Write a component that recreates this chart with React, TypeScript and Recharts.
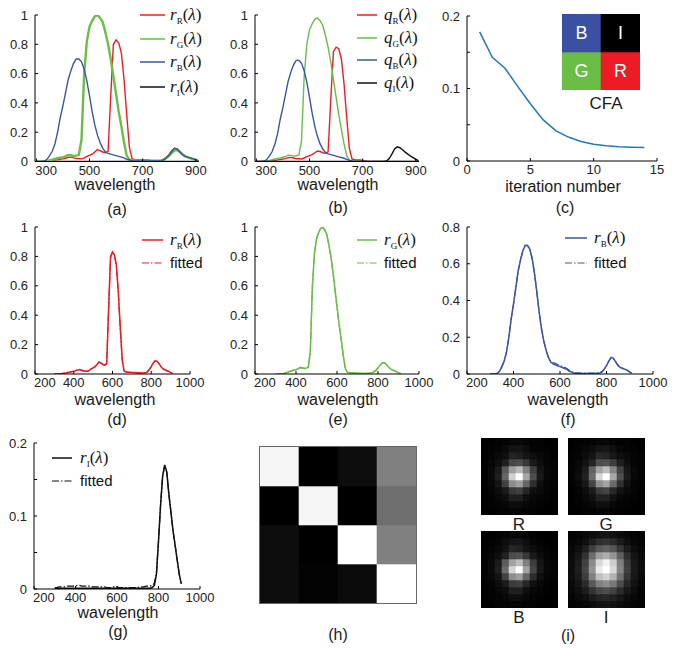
import React from 'react';
import { LineChart, Line, XAxis, YAxis, BarChart, Bar, Cell, LabelList } from 'recharts';

const FONT = '"Liberation Sans", Arial, Helvetica, sans-serif';
const SERIF = '"Liberation Serif", "Times New Roman", serif';
const RED = '#ED1C24';
const GREEN = '#6ABD45';
const BLUE = '#3B54A4';
const BLACK = '#111111';
const CURVE = '#1F78C0';
const DASHDOT = '7 2 1.5 2';

// ---------- data ----------
const wavelengths = [
  300, 310, 320, 330, 340, 350, 360, 370, 380, 390,
  400, 410, 420, 430, 440, 450, 460, 470, 480, 490,
  500, 510, 520, 530, 540, 550, 560, 570, 580, 590,
  600, 610, 620, 630, 640, 650, 660, 670, 680, 690,
  700, 710, 720, 730, 740, 750, 760, 770, 780, 790,
  800, 810, 820, 830, 840, 850, 860, 870, 880, 890,
  900, 910,
];

const rR = [
  0, 0, 0, 0.002, 0.003, 0.005, 0.007, 0.01, 0.012, 0.015,
  0.018, 0.022, 0.028, 0.03, 0.025, 0.02, 0.02, 0.018, 0.025, 0.035,
  0.042, 0.05, 0.065, 0.082, 0.075, 0.065, 0.06, 0.07, 0.45, 0.8,
  0.83, 0.81, 0.74, 0.56, 0.32, 0.1, 0.02, 0.013, 0.012, 0.012,
  0.01, 0.01, 0.01, 0.008, 0.007, 0.006, 0.006, 0.008, 0.015, 0.03,
  0.05, 0.075, 0.09, 0.086, 0.07, 0.05, 0.036, 0.028, 0.022, 0.018,
  0.01, 0.004,
];
const rG = [
  0, 0, 0, 0.001, 0.003, 0.008, 0.012, 0.018, 0.022, 0.026,
  0.03, 0.035, 0.045, 0.043, 0.038, 0.04, 0.045, 0.15, 0.6, 0.82,
  0.92, 0.96, 0.99, 1.0, 0.98, 0.95, 0.88, 0.8, 0.7, 0.58,
  0.46, 0.34, 0.24, 0.13, 0.04, 0.012, 0.008, 0.008, 0.007, 0.007,
  0.006, 0.005, 0.005, 0.004, 0.004, 0.005, 0.006, 0.008, 0.015, 0.025,
  0.04, 0.06, 0.075, 0.078, 0.065, 0.05, 0.035, 0.028, 0.022, 0.016,
  0.008, 0.003,
];
const rB = [
  0, 0, 0, 0.003, 0.015, 0.04, 0.07, 0.12, 0.2, 0.3,
  0.38, 0.47, 0.56, 0.62, 0.67, 0.7, 0.7, 0.68, 0.63, 0.55,
  0.45, 0.34, 0.25, 0.18, 0.13, 0.09, 0.065, 0.055, 0.05, 0.045,
  0.04, 0.035, 0.03, 0.025, 0.015, 0.01, 0.005, 0.003, 0.003, 0.003,
  0.003, 0.003, 0.003, 0.003, 0.003, 0.003, 0.003, 0.005, 0.01, 0.025,
  0.045, 0.07, 0.09, 0.085, 0.065, 0.045, 0.035, 0.03, 0.025, 0.02,
  0.01, 0.005,
];
const rI = [
  0, 0.001, 0.001, 0.001, 0.001, 0.001, 0.001, 0.001, 0.001, 0.001,
  0.001, 0.001, 0.001, 0.001, 0.001, 0.001, 0.001, 0.001, 0.001, 0.001,
  0.001, 0.001, 0.001, 0.001, 0.001, 0.001, 0.001, 0.001, 0.001, 0.001,
  0.001, 0.001, 0.001, 0.001, 0.001, 0.001, 0.001, 0.001, 0.001, 0.001,
  0.001, 0.001, 0.001, 0.001, 0.001, 0.001, 0.001, 0.002, 0.005, 0.02,
  0.065, 0.115, 0.155, 0.17, 0.16, 0.13, 0.105, 0.08, 0.06, 0.04,
  0.02, 0.007,
];
// r_I as it appears in panel (a): lies on the baseline
const rIa = [
  0, 0, 0, 0, 0, 0, 0, 0, 0, 0,
  0, 0, 0, 0, 0, 0, 0, 0, 0, 0,
  0, 0, 0, 0, 0, 0, 0, 0, 0, 0,
  0, 0, 0, 0, 0, 0, 0, 0, 0, 0,
  0, 0, 0, 0, 0, 0, 0, 0, 0, 0,
  0, 0, 0, 0, 0, 0, 0, 0, 0, 0,
  0, 0,
];

const fR = [
  0, 0, 0.001, 0.003, 0.004, 0.006, 0.008, 0.011, 0.013, 0.016,
  0.019, 0.023, 0.029, 0.03, 0.026, 0.021, 0.02, 0.019, 0.026, 0.036,
  0.043, 0.051, 0.066, 0.08, 0.074, 0.064, 0.061, 0.072, 0.44, 0.79,
  0.83, 0.81, 0.73, 0.55, 0.31, 0.1, 0.021, 0.014, 0.012, 0.011,
  0.01, 0.01, 0.009, 0.008, 0.007, 0.007, 0.007, 0.009, 0.016, 0.031,
  0.051, 0.074, 0.089, 0.085, 0.07, 0.051, 0.037, 0.029, 0.023, 0.018,
  0.011, 0.005,
];
const fG = [
  0, 0, 0.001, 0.002, 0.004, 0.009, 0.013, 0.018, 0.023, 0.027,
  0.031, 0.036, 0.044, 0.042, 0.039, 0.041, 0.047, 0.16, 0.59, 0.82,
  0.92, 0.96, 0.99, 0.995, 0.98, 0.95, 0.88, 0.8, 0.69, 0.57,
  0.45, 0.34, 0.24, 0.13, 0.042, 0.013, 0.009, 0.008, 0.008, 0.007,
  0.006, 0.006, 0.005, 0.005, 0.005, 0.005, 0.006, 0.009, 0.016, 0.026,
  0.041, 0.06, 0.074, 0.077, 0.065, 0.05, 0.036, 0.028, 0.022, 0.016,
  0.009, 0.004,
];
const fB = [
  0, 0, 0.001, 0.004, 0.016, 0.04, 0.072, 0.12, 0.2, 0.3,
  0.38, 0.47, 0.56, 0.62, 0.67, 0.7, 0.7, 0.68, 0.63, 0.55,
  0.45, 0.34, 0.25, 0.18, 0.13, 0.092, 0.07, 0.062, 0.058, 0.052,
  0.047, 0.042, 0.036, 0.03, 0.02, 0.013, 0.008, 0.006, 0.006, 0.005,
  0.005, 0.005, 0.005, 0.005, 0.005, 0.005, 0.006, 0.008, 0.013, 0.027,
  0.047, 0.071, 0.09, 0.084, 0.066, 0.047, 0.036, 0.031, 0.026, 0.02,
  0.011, 0.006,
];
const fI = [
  0.002, 0.002, 0.003, 0.003, 0.003, 0.003, 0.004, 0.004, 0.004, 0.004,
  0.004, 0.005, 0.005, 0.004, 0.004, 0.004, 0.004, 0.004, 0.003, 0.003,
  0.003, 0.003, 0.003, 0.003, 0.003, 0.002, 0.002, 0.002, 0.003, 0.003,
  0.003, 0.002, 0.002, 0.002, 0.002, 0.002, 0.002, 0.002, 0.002, 0.002,
  0.002, 0.003, 0.003, 0.003, 0.004, 0.004, 0.004, 0.005, 0.008, 0.022,
  0.066, 0.115, 0.155, 0.169, 0.16, 0.13, 0.105, 0.08, 0.06, 0.04,
  0.02, 0.008,
];

const qR = [
  0, 0, 0, 0.002, 0.003, 0.005, 0.007, 0.009, 0.011, 0.014,
  0.017, 0.02, 0.026, 0.028, 0.024, 0.019, 0.019, 0.017, 0.024, 0.033,
  0.04, 0.047, 0.06, 0.072, 0.068, 0.06, 0.057, 0.066, 0.42, 0.75,
  0.78, 0.77, 0.7, 0.53, 0.3, 0.09, 0.018, 0.012, 0.01, 0.01,
  0.008, 0.004, 0, 0, 0, 0, 0, 0, 0, 0,
  0, 0, 0, 0, 0, 0, 0, 0, 0, 0,
  0, 0,
];
const qG = [
  0, 0, 0, 0.001, 0.003, 0.008, 0.012, 0.017, 0.021, 0.025,
  0.029, 0.034, 0.043, 0.042, 0.037, 0.039, 0.044, 0.14, 0.58, 0.8,
  0.9, 0.94, 0.97, 0.98, 0.96, 0.93, 0.86, 0.78, 0.68, 0.56,
  0.44, 0.32, 0.22, 0.12, 0.04, 0.01, 0.005, 0.004, 0.003, 0.002,
  0.002, 0.001, 0, 0, 0, 0, 0, 0, 0, 0,
  0, 0, 0, 0, 0, 0, 0, 0, 0, 0,
  0, 0,
];
const qB = [
  0, 0, 0, 0.003, 0.015, 0.04, 0.07, 0.12, 0.19, 0.29,
  0.37, 0.46, 0.55, 0.61, 0.66, 0.69, 0.69, 0.67, 0.62, 0.54,
  0.44, 0.33, 0.24, 0.17, 0.12, 0.085, 0.062, 0.052, 0.047, 0.042,
  0.037, 0.032, 0.027, 0.022, 0.014, 0.008, 0.004, 0.002, 0.001, 0.001,
  0, 0, 0, 0, 0, 0, 0, 0, 0, 0,
  0, 0, 0, 0, 0, 0, 0, 0, 0, 0,
  0, 0,
];
const qI = [
  0, 0, 0, 0, 0, 0, 0, 0, 0, 0,
  0, 0, 0, 0, 0, 0, 0, 0, 0, 0,
  0, 0, 0, 0, 0, 0, 0, 0, 0, 0,
  0, 0, 0, 0, 0, 0, 0, 0, 0, 0,
  0, 0, 0, 0, 0, 0, 0, 0, 0, 0.003,
  0.02, 0.05, 0.085, 0.1, 0.094, 0.08, 0.064, 0.05, 0.037, 0.026,
  0.015, 0.006,
];

const iterations = [1, 2, 3, 4, 5, 6, 7, 8, 9, 10, 11, 12, 13, 14];
const iterError = [0.178, 0.143, 0.128, 0.103, 0.079, 0.057, 0.042, 0.033, 0.027, 0.023, 0.021, 0.0195, 0.019, 0.0185];

const cfaLetters = [['B', 'I'], ['G', 'R']];
const cfaColors = [['#3A51A3', '#000000'], ['#6ABD45', '#ED1C24']];

const matrixH = [
  [0.96, 0.0, 0.05, 0.5],
  [0.0, 0.96, 0.0, 0.43],
  [0.05, 0.0, 1.0, 0.5],
  [0.05, 0.012, 0.04, 1.0],
];

const psfR = [
  [0.0, 0.0, 0.01, 0.02, 0.03, 0.03, 0.02, 0.01, 0.01, 0.0, 0.0],
  [0.0, 0.01, 0.02, 0.04, 0.08, 0.08, 0.05, 0.02, 0.01, 0.01, 0.0],
  [0.0, 0.02, 0.04, 0.06, 0.14, 0.12, 0.08, 0.06, 0.04, 0.02, 0.0],
  [0.01, 0.03, 0.06, 0.12, 0.28, 0.3, 0.22, 0.1, 0.05, 0.02, 0.01],
  [0.01, 0.04, 0.1, 0.35, 0.62, 0.72, 0.5, 0.25, 0.08, 0.03, 0.01],
  [0.01, 0.04, 0.12, 0.4, 0.82, 1.0, 0.65, 0.3, 0.1, 0.03, 0.01],
  [0.01, 0.03, 0.08, 0.25, 0.55, 0.62, 0.4, 0.18, 0.06, 0.02, 0.01],
  [0.0, 0.02, 0.05, 0.1, 0.22, 0.25, 0.15, 0.06, 0.04, 0.02, 0.0],
  [0.0, 0.01, 0.03, 0.05, 0.12, 0.12, 0.06, 0.03, 0.02, 0.01, 0.0],
  [0.0, 0.01, 0.02, 0.03, 0.05, 0.05, 0.03, 0.02, 0.01, 0.0, 0.0],
  [0.0, 0.0, 0.01, 0.01, 0.02, 0.02, 0.01, 0.01, 0.0, 0.0, 0.0],
];
const psfG = [
  [0.0, 0.01, 0.01, 0.02, 0.03, 0.03, 0.02, 0.01, 0.01, 0.0, 0.0],
  [0.0, 0.01, 0.03, 0.05, 0.08, 0.09, 0.06, 0.03, 0.01, 0.01, 0.0],
  [0.01, 0.02, 0.05, 0.08, 0.16, 0.14, 0.09, 0.06, 0.04, 0.02, 0.01],
  [0.01, 0.03, 0.07, 0.14, 0.3, 0.32, 0.24, 0.12, 0.06, 0.02, 0.01],
  [0.01, 0.04, 0.11, 0.38, 0.64, 0.74, 0.52, 0.26, 0.09, 0.03, 0.01],
  [0.01, 0.05, 0.13, 0.42, 0.84, 1.0, 0.66, 0.31, 0.11, 0.03, 0.01],
  [0.01, 0.03, 0.09, 0.27, 0.56, 0.64, 0.42, 0.19, 0.07, 0.02, 0.01],
  [0.0, 0.02, 0.05, 0.11, 0.24, 0.27, 0.16, 0.07, 0.04, 0.02, 0.0],
  [0.0, 0.01, 0.03, 0.06, 0.13, 0.13, 0.07, 0.03, 0.02, 0.01, 0.0],
  [0.0, 0.01, 0.02, 0.03, 0.06, 0.06, 0.03, 0.02, 0.01, 0.0, 0.0],
  [0.0, 0.0, 0.01, 0.01, 0.02, 0.02, 0.01, 0.01, 0.0, 0.0, 0.0],
];
const psfB = [
  [0.0, 0.0, 0.01, 0.02, 0.03, 0.03, 0.02, 0.01, 0.0, 0.0, 0.0],
  [0.0, 0.01, 0.02, 0.05, 0.08, 0.09, 0.05, 0.02, 0.01, 0.0, 0.0],
  [0.0, 0.02, 0.04, 0.07, 0.15, 0.13, 0.08, 0.05, 0.03, 0.01, 0.0],
  [0.01, 0.03, 0.06, 0.13, 0.3, 0.32, 0.22, 0.1, 0.05, 0.02, 0.01],
  [0.01, 0.04, 0.1, 0.36, 0.64, 0.74, 0.5, 0.24, 0.08, 0.03, 0.01],
  [0.01, 0.04, 0.12, 0.42, 0.84, 1.0, 0.64, 0.28, 0.09, 0.03, 0.01],
  [0.01, 0.03, 0.08, 0.26, 0.56, 0.62, 0.4, 0.17, 0.06, 0.02, 0.01],
  [0.0, 0.02, 0.05, 0.1, 0.23, 0.26, 0.15, 0.06, 0.03, 0.01, 0.0],
  [0.0, 0.01, 0.03, 0.05, 0.12, 0.12, 0.06, 0.03, 0.02, 0.01, 0.0],
  [0.0, 0.01, 0.02, 0.03, 0.05, 0.05, 0.03, 0.02, 0.01, 0.0, 0.0],
  [0.0, 0.0, 0.01, 0.01, 0.02, 0.02, 0.01, 0.01, 0.0, 0.0, 0.0],
];
const psfI = [
  [0.01, 0.02, 0.03, 0.05, 0.07, 0.08, 0.07, 0.05, 0.03, 0.02, 0.01],
  [0.02, 0.03, 0.06, 0.12, 0.18, 0.2, 0.17, 0.11, 0.06, 0.03, 0.02],
  [0.03, 0.06, 0.12, 0.25, 0.35, 0.38, 0.33, 0.22, 0.11, 0.05, 0.03],
  [0.04, 0.09, 0.2, 0.42, 0.62, 0.68, 0.58, 0.38, 0.18, 0.08, 0.04],
  [0.05, 0.11, 0.26, 0.55, 0.85, 0.95, 0.8, 0.5, 0.24, 0.1, 0.05],
  [0.05, 0.12, 0.28, 0.58, 0.92, 1.0, 0.85, 0.52, 0.25, 0.1, 0.05],
  [0.05, 0.1, 0.24, 0.5, 0.75, 0.82, 0.7, 0.45, 0.21, 0.09, 0.04],
  [0.04, 0.08, 0.17, 0.35, 0.5, 0.55, 0.47, 0.3, 0.15, 0.07, 0.03],
  [0.03, 0.06, 0.11, 0.2, 0.28, 0.3, 0.26, 0.17, 0.09, 0.05, 0.02],
  [0.02, 0.04, 0.06, 0.1, 0.14, 0.15, 0.13, 0.09, 0.05, 0.03, 0.01],
  [0.01, 0.02, 0.03, 0.05, 0.07, 0.08, 0.07, 0.05, 0.03, 0.02, 0.01],
];

const ticksUnit = [0, 0.2, 0.4, 0.6, 0.8, 1];
const ticksBlue = [0, 0.2, 0.4, 0.6, 0.8];
const ticksSmall = [0, 0.05, 0.1, 0.15, 0.2];
const ticksWlTop = [300, 500, 700, 900];
const ticksWl = [200, 400, 600, 800, 1000];
const ticksIter = [0, 5, 10, 15];

// ---------- derived tables ----------
const specRows = wavelengths.map((w, i) => ({
  w,
  rR: rR[i], rG: rG[i], rB: rB[i], rI: rI[i], rIa: rIa[i],
  fR: fR[i], fG: fG[i], fB: fB[i], fI: fI[i],
  qR: qR[i], qG: qG[i], qB: qB[i], qI: qI[i],
}));
const iterRows = iterations.map((k, i) => ({ k, err: iterError[i] }));

const gray = (v: number) => {
  const g = Math.round(255 * Math.max(0, Math.min(1, v)));
  return `rgb(${g},${g},${g})`;
};
const toColors = (m: number[][]) => m.map((row) => row.map(gray));

// ---------- components ----------
type Series = { key: string; color: string; width?: number; dash?: string };

const minorFmt = (v: number) =>
  Math.abs(v - 0.05) < 1e-9 || Math.abs(v - 0.15) < 1e-9 ? '' : String(v);

const TICK_FONT = 13;

function makeXTick(firstStart: boolean) {
  return (p: any) => {
    const first = firstStart && p.index === 0;
    return (
      <text
        x={Number(p.x) + (first ? -1 : 0)}
        y={Number(p.y)}
        dy="0.71em"
        textAnchor={first ? 'start' : 'middle'}
        fontSize={TICK_FONT}
        fill="#222"
        fontFamily={FONT}
      >
        {p.payload.value}
      </text>
    );
  };
}

function Plot(props: {
  box: [number, number, number, number];
  data: any[];
  xKey: string;
  xDomain: [number, number];
  xTicks: number[];
  yDomain: [number, number];
  yTicks: number[];
  yFmt?: (v: number) => string;
  firstStart?: boolean;
  series: Series[];
}) {
  const { box, data, xKey, xDomain, xTicks, yDomain, yTicks, yFmt, series, firstStart } = props;
  const [x0, y0, x1, y1] = box;
  const padL = 44, padT = 10, padR = 22, padB = 26;
  const W = x1 - x0 + padL + padR;
  const H = y1 - y0 + padT + padB;
  const tickStyle = { fontSize: TICK_FONT, fill: '#222', fontFamily: FONT };
  return (
    <div style={{ position: 'absolute', left: x0 - padL, top: y0 - padT }}>
      <LineChart width={W} height={H} data={data} margin={{ top: padT, right: padR, bottom: 0, left: 0 }}>
        <XAxis
          type="number"
          dataKey={xKey}
          domain={xDomain}
          ticks={xTicks}
          allowDataOverflow
          interval={0}
          height={padB}
          tickSize={-3}
          tickMargin={7}
          axisLine={{ stroke: '#000' }}
          tickLine={{ stroke: '#000' }}
          tick={makeXTick(!!firstStart)}
        />
        <YAxis
          type="number"
          domain={yDomain}
          ticks={yTicks}
          allowDataOverflow
          interval={0}
          width={padL}
          tickSize={-3}
          tickMargin={10}
          tickFormatter={yFmt}
          axisLine={{ stroke: '#000' }}
          tickLine={{ stroke: '#000' }}
          tick={tickStyle}
        />
        {series.map((s) => (
          <Line
            key={s.key}
            dataKey={s.key}
            type="linear"
            stroke={s.color}
            strokeWidth={s.width ?? 1.5}
            strokeDasharray={s.dash}
            dot={false}
            activeDot={false}
            isAnimationActive={false}
          />
        ))}
      </LineChart>
    </div>
  );
}

function Heatmap(props: {
  colors: string[][];
  left: number;
  top: number;
  width: number;
  height: number;
  labels?: string[][];
}) {
  const { colors, left, top, width, height, labels } = props;
  const nRows = colors.length;
  const data = colors[0].map((_, c) => {
    const o: Record<string, number> = { c };
    colors.forEach((_, r) => {
      o['row' + r] = 1;
    });
    return o;
  });
  const order = colors.map((_, r) => nRows - 1 - r);
  return (
    <div style={{ position: 'absolute', left, top }}>
      <BarChart
        width={width}
        height={height}
        data={data}
        margin={{ top: 0, right: 0, bottom: 0, left: 0 }}
        barCategoryGap={0}
        barGap={0}
      >
        <XAxis dataKey="c" type="category" hide />
        <YAxis type="number" domain={[0, nRows]} allowDataOverflow hide />
        {order.map((r) => (
          <Bar key={r} dataKey={'row' + r} stackId="cells" isAnimationActive={false}>
            {data.map((_, c) => (
              <Cell key={c} fill={colors[r][c]} stroke={colors[r][c]} strokeWidth={0.6} />
            ))}
            {labels ? (
              <LabelList
                dataKey={'row' + r}
                content={(p: any) => (
                  <text
                    x={Number(p.x) + Number(p.width) / 2}
                    y={Number(p.y) + Number(p.height) / 2}
                    textAnchor="middle"
                    dominantBaseline="central"
                    fill="#fff"
                    fontSize={18}
                    fontFamily={FONT}
                  >
                    {labels[r][p.index]}
                  </text>
                )}
              />
            ) : null}
          </Bar>
        ))}
      </BarChart>
    </div>
  );
}

function Caption({ x, y, size = 16, children }: { x: number; y: number; size?: number; children: React.ReactNode }) {
  return (
    <div
      style={{
        position: 'absolute',
        left: x,
        top: y,
        transform: 'translate(-50%, -50%)',
        whiteSpace: 'nowrap',
        fontFamily: FONT,
        fontSize: size,
        color: '#1a1a1a',
        lineHeight: 1,
      }}
    >
      {children}
    </div>
  );
}

function Sym({ base, sub }: { base: string; sub: string }) {
  return (
    <span style={{ fontFamily: SERIF, fontSize: 17, color: '#111' }}>
      <i>{base}</i>
      <span style={{ fontSize: 9, position: 'relative', top: 4 }}>{sub}</span>(<i>λ</i>)
    </span>
  );
}

function Fitted() {
  return <span style={{ fontFamily: FONT, fontSize: 15, color: '#111' }}>fitted</span>;
}

type LegendItem = { color: string; dash?: string; width?: number; label: React.ReactNode };

function LegendRows({ x0, x1, tx, ys, items }: { x0: number; x1: number; tx: number; ys: number[]; items: LegendItem[] }) {
  return (
    <>
      {items.map((it, i) => (
        <React.Fragment key={i}>
          <svg style={{ position: 'absolute', left: x0, top: ys[i] - 3 }} width={x1 - x0} height={6}>
            <line x1={0} y1={3} x2={x1 - x0} y2={3} stroke={it.color} strokeWidth={it.width ?? 1.5} strokeDasharray={it.dash} />
          </svg>
          <div
            style={{
              position: 'absolute',
              left: tx,
              top: ys[i] - 11,
              height: 22,
              lineHeight: '22px',
              whiteSpace: 'nowrap',
            }}
          >
            {it.label}
          </div>
        </React.Fragment>
      ))}
    </>
  );
}

export default function App() {
  return (
    <div
      style={{
        position: 'absolute',
        left: 0,
        top: 0,
        width: 684,
        height: 648,
        background: '#fff',
        overflow: 'hidden',
        fontFamily: FONT,
      }}
    >
      {/* (a) */}
      <Plot
        box={[35, 14.5, 199, 161]}
        data={specRows}
        xKey="w"
        xDomain={[295, 912]}
        xTicks={ticksWlTop}
        yDomain={[0, 1]}
        yTicks={ticksUnit}
        firstStart
        series={[
          { key: 'rIa', color: BLACK, width: 1.3 },
          { key: 'rR', color: RED, width: 1.4 },
          { key: 'rG', color: GREEN, width: 2.4 },
          { key: 'rB', color: BLUE, width: 1.4 },
        ]}
      />
      <LegendRows
        x0={140}
        x1={165}
        tx={170}
        ys={[15, 39, 62, 87]}
        items={[
          { color: RED, label: <Sym base="r" sub="R" /> },
          { color: GREEN, label: <Sym base="r" sub="G" /> },
          { color: BLUE, label: <Sym base="r" sub="B" /> },
          { color: BLACK, label: <Sym base="r" sub="I" /> },
        ]}
      />
      <Caption x={115} y={185}>wavelength</Caption>
      <Caption x={117} y={210}>(a)</Caption>

      {/* (b) */}
      <Plot
        box={[255, 14.5, 419, 161]}
        data={specRows}
        xKey="w"
        xDomain={[295, 912]}
        xTicks={ticksWlTop}
        yDomain={[0, 1]}
        yTicks={ticksUnit}
        firstStart
        series={[
          { key: 'qR', color: RED, width: 1.4 },
          { key: 'qG', color: GREEN, width: 1.4 },
          { key: 'qB', color: BLUE, width: 1.4 },
          { key: 'qI', color: BLACK, width: 1.4 },
        ]}
      />
      <LegendRows
        x0={357}
        x1={377}
        tx={384}
        ys={[15, 38, 60, 83]}
        items={[
          { color: RED, label: <Sym base="q" sub="R" /> },
          { color: GREEN, label: <Sym base="q" sub="G" /> },
          { color: BLUE, label: <Sym base="q" sub="B" /> },
          { color: BLACK, label: <Sym base="q" sub="I" /> },
        ]}
      />
      <Caption x={338} y={185}>wavelength</Caption>
      <Caption x={338} y={208}>(b)</Caption>

      {/* (c) */}
      <Plot
        box={[467, 16, 657, 161]}
        data={iterRows}
        xKey="k"
        xDomain={[0, 15]}
        xTicks={ticksIter}
        yDomain={[0, 0.2]}
        yTicks={ticksSmall}
        yFmt={minorFmt}
        series={[{ key: 'err', color: CURVE, width: 1.5 }]}
      />
      <Heatmap colors={cfaColors} labels={cfaLetters} left={562} top={14} width={78} height={76} />
      <Caption x={606} y={103} size={17}>CFA</Caption>
      <Caption x={563} y={187}>iteration number</Caption>
      <Caption x={565} y={208}>(c)</Caption>

      {/* (d) */}
      <Plot
        box={[35, 227, 190, 374]}
        data={specRows}
        xKey="w"
        xDomain={[200, 1000]}
        xTicks={ticksWl}
        yDomain={[0, 1]}
        yTicks={ticksUnit}
        firstStart
        series={[
          { key: 'rR', color: RED, width: 1.5 },
          { key: 'fR', color: RED, width: 1.2, dash: DASHDOT },
        ]}
      />
      <LegendRows
        x0={142}
        x1={163}
        tx={170}
        ys={[240, 263]}
        items={[
          { color: RED, label: <Sym base="r" sub="R" /> },
          { color: RED, dash: DASHDOT, width: 1.2, label: <Fitted /> },
        ]}
      />
      <Caption x={115} y={400}>wavelength</Caption>
      <Caption x={117} y={420}>(d)</Caption>

      {/* (e) */}
      <Plot
        box={[255, 227, 419, 374]}
        data={specRows}
        xKey="w"
        xDomain={[200, 1000]}
        xTicks={ticksWl}
        yDomain={[0, 1]}
        yTicks={ticksUnit}
        firstStart
        series={[
          { key: 'rG', color: GREEN, width: 1.5 },
          { key: 'fG', color: GREEN, width: 1.2, dash: DASHDOT },
        ]}
      />
      <LegendRows
        x0={357}
        x1={377}
        tx={384}
        ys={[240, 263]}
        items={[
          { color: GREEN, label: <Sym base="r" sub="G" /> },
          { color: GREEN, dash: DASHDOT, width: 1.2, label: <Fitted /> },
        ]}
      />
      <Caption x={338} y={400}>wavelength</Caption>
      <Caption x={338} y={420}>(e)</Caption>

      {/* (f) */}
      <Plot
        box={[467, 227, 653, 374]}
        data={specRows}
        xKey="w"
        xDomain={[200, 1000]}
        xTicks={ticksWl}
        yDomain={[0, 0.8]}
        yTicks={ticksBlue}
        firstStart
        series={[
          { key: 'rB', color: BLUE, width: 1.5 },
          { key: 'fB', color: BLUE, width: 1.2, dash: DASHDOT },
        ]}
      />
      <LegendRows
        x0={565}
        x1={587}
        tx={594}
        ys={[238, 263]}
        items={[
          { color: BLUE, label: <Sym base="r" sub="B" /> },
          { color: BLUE, dash: DASHDOT, width: 1.2, label: <Fitted /> },
        ]}
      />
      <Caption x={568} y={400}>wavelength</Caption>
      <Caption x={568} y={420}>(f)</Caption>

      {/* (g) */}
      <Plot
        box={[34, 443, 200, 589]}
        data={specRows}
        xKey="w"
        xDomain={[200, 1000]}
        xTicks={ticksWl}
        yDomain={[0, 0.2]}
        yTicks={ticksSmall}
        yFmt={minorFmt}
        firstStart
        series={[
          { key: 'rI', color: BLACK, width: 1.5 },
          { key: 'fI', color: BLACK, width: 1.2, dash: DASHDOT },
        ]}
      />
      <LegendRows
        x0={52}
        x1={72}
        tx={80}
        ys={[458, 481]}
        items={[
          { color: BLACK, label: <Sym base="r" sub="I" /> },
          { color: BLACK, dash: DASHDOT, width: 1.2, label: <Fitted /> },
        ]}
      />
      <Caption x={118} y={613}>wavelength</Caption>
      <Caption x={118} y={632}>(g)</Caption>

      {/* (h) */}
      <Heatmap colors={toColors(matrixH)} left={260} top={447} width={156} height={156} />
      <div
        style={{
          position: 'absolute',
          left: 259,
          top: 446,
          width: 156,
          height: 156,
          border: '1px solid #666',
        }}
      />
      <Caption x={338} y={635}>(h)</Caption>

      {/* (i) */}
      <Heatmap colors={toColors(psfR)} left={481} top={438} width={77} height={77} />
      <Heatmap colors={toColors(psfG)} left={568} top={438} width={77} height={77} />
      <Heatmap colors={toColors(psfB)} left={481} top={531} width={77} height={77} />
      <Heatmap colors={toColors(psfI)} left={568} top={531} width={77} height={77} />
      <Caption x={519} y={524} size={17}>R</Caption>
      <Caption x={606} y={524} size={17}>G</Caption>
      <Caption x={519} y={617} size={17}>B</Caption>
      <Caption x={606} y={617} size={17}>I</Caption>
      <Caption x={568} y={636}>(i)</Caption>
    </div>
  );
}
